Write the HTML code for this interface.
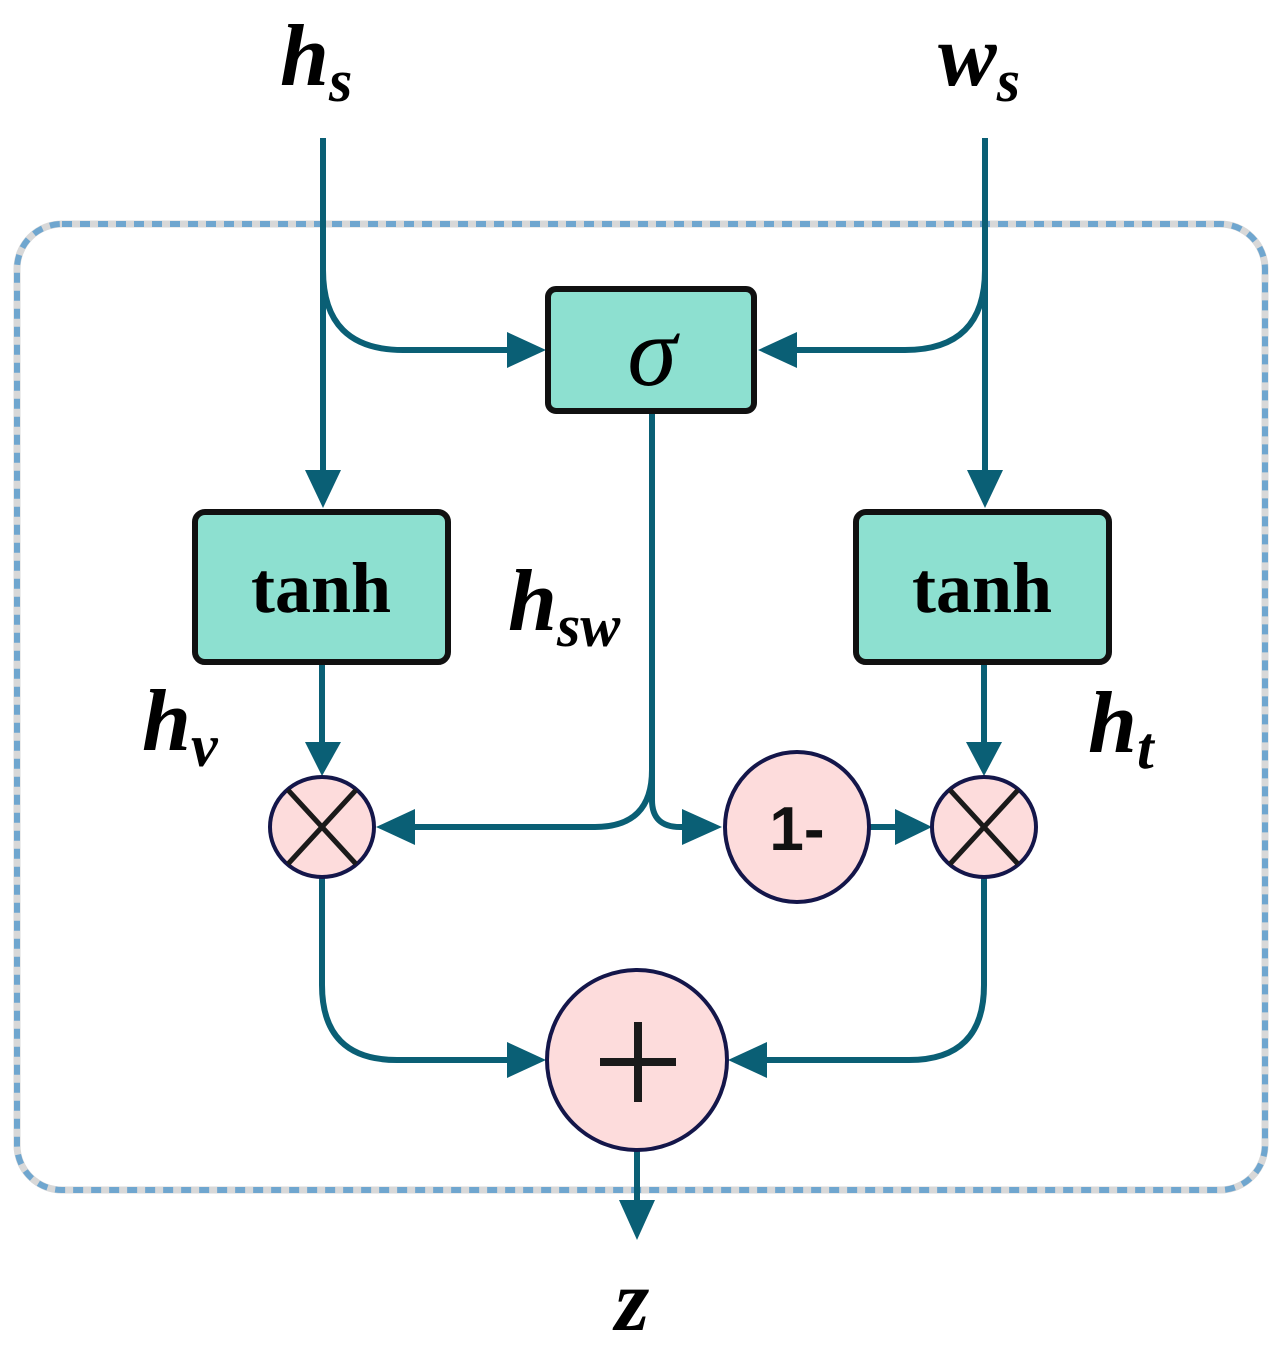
<!DOCTYPE html>
<html><head><meta charset="utf-8"><style>
html,body{margin:0;padding:0;background:#fff;}
svg{display:block}
.l{fill:none;stroke:#0a5f75;stroke-width:6;}
.t{font-family:"Liberation Serif",serif;font-style:italic;font-weight:bold;fill:#000;}
</style></head><body>
<svg width="1285" height="1347" viewBox="0 0 1285 1347" xmlns="http://www.w3.org/2000/svg">
<defs>
<marker id="a" markerWidth="10" markerHeight="10" refX="9" refY="5" orient="auto" markerUnits="userSpaceOnUse" viewBox="0 0 10 10">
</marker>
</defs>
<rect x="17" y="224" width="1248" height="966" rx="45" fill="none" stroke="#d8d8d8" stroke-width="7"/>
<rect x="17" y="224" width="1248" height="966" rx="45" fill="none" stroke="#6fa6cf" stroke-width="6" stroke-dasharray="10 8"/>
<!-- lines -->
<path class="l" d="M323 138 V480"/>
<path class="l" d="M323 270 Q323 350 403 350 H512"/>
<path class="l" d="M985 138 V480"/>
<path class="l" d="M985 270 Q985 350 905 350 H793"/>
<path class="l" d="M322 663 V745"/>
<path class="l" d="M984 663 V745"/>
<path class="l" d="M652 412 V770 Q652 827 595 827 H410"/>
<path class="l" d="M652 770 V800 Q652 827 680 827 H690"/>
<path class="l" d="M870 827 H900"/>
<path class="l" d="M322 877 V985 Q322 1060 397 1060 H512"/>
<path class="l" d="M984 877 V985 Q984 1060 909 1060 H762"/>
<path class="l" d="M637 1150 V1205"/>
<!-- arrowheads -->
<g fill="#0a5f75">
<polygon points="305,470 341,470 323,508"/>
<polygon points="967,470 1003,470 985,508"/>
<polygon points="305,742 341,742 322,776"/>
<polygon points="966,742 1002,742 984,776"/>
<polygon points="507,332 507,368 546,350"/>
<polygon points="797,332 797,368 758,350"/>
<polygon points="415,809 415,845 376,827"/>
<polygon points="682,809 682,845 722,827"/>
<polygon points="895,809 895,845 932,827"/>
<polygon points="507,1042 507,1078 546,1060"/>
<polygon points="767,1042 767,1078 728,1060"/>
<polygon points="619,1200 655,1200 637,1240"/>
</g>
<!-- boxes -->
<rect x="548" y="289" width="206" height="122" rx="8" fill="#8de0d0" stroke="#111" stroke-width="6"/>
<rect x="195" y="512" width="253" height="150" rx="10" fill="#8de0d0" stroke="#111" stroke-width="6"/>
<rect x="856" y="512" width="253" height="150" rx="10" fill="#8de0d0" stroke="#111" stroke-width="6"/>
<text x="652" y="385" font-family="Liberation Serif,serif" font-style="italic" font-size="100" text-anchor="middle">σ</text>
<text x="321" y="612" font-family="Liberation Serif,serif" font-weight="bold" font-size="72" text-anchor="middle">tanh</text>
<text x="982" y="612" font-family="Liberation Serif,serif" font-weight="bold" font-size="72" text-anchor="middle">tanh</text>
<!-- circles -->
<g fill="#fddcdc" stroke="#14164a" stroke-width="4">
<ellipse cx="322" cy="827" rx="52" ry="50"/>
<ellipse cx="984" cy="827" rx="52" ry="50"/>
<ellipse cx="797" cy="827" rx="72" ry="75"/>
<ellipse cx="637" cy="1060" rx="90" ry="90"/>
</g>
<g stroke="#1a1a1a" stroke-width="5">
<line x1="288" y1="790" x2="356" y2="864"/><line x1="356" y1="790" x2="288" y2="864"/>
<line x1="950" y1="790" x2="1018" y2="864"/><line x1="1018" y1="790" x2="950" y2="864"/>
<line x1="600" y1="1062" x2="676" y2="1062" stroke-width="8"/><line x1="638" y1="1022" x2="638" y2="1102" stroke-width="8"/>
</g>
<text x="797" y="850" font-family="Liberation Sans,sans-serif" font-weight="bold" font-size="62" text-anchor="middle" fill="#111">1-</text>
<!-- labels -->
<text class="t" x="280" y="85" font-size="88">h<tspan font-size="60" dy="16">s</tspan></text>
<text class="t" x="938" y="85" font-size="88">w<tspan font-size="60" dy="16">s</tspan></text>
<text class="t" x="508" y="630" font-size="88">h<tspan font-size="60" dy="16">sw</tspan></text>
<text class="t" x="142" y="750" font-size="88">h<tspan font-size="60" dy="16">v</tspan></text>
<text class="t" x="1088" y="752" font-size="88">h<tspan font-size="60" dy="16">t</tspan></text>
<text class="t" x="615" y="1330" font-size="88">z</text>
</svg>
</body></html>
